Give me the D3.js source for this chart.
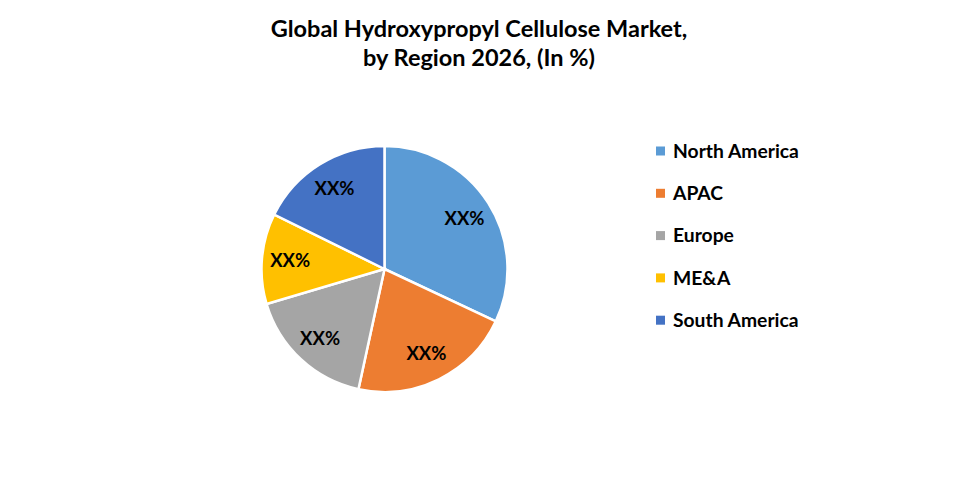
<!DOCTYPE html>
<html>
<head>
<meta charset="utf-8">
<script src="https://cdn.jsdelivr.net/npm/d3@7"></script>
<style>
  body { margin: 0; background: #fff; }
  text { font-family: Lato, "Open Sans", sans-serif; font-weight: bold; }
</style>
</head>
<body>
<div id="chart"></div>
<script>
const w = 973;
const h = 491;

const regions = ["North America", "APAC", "Europe", "ME&A", "South America"];
const shares = [32.0, 21.4, 17.0, 11.9, 17.7];
const labels = ["XX%", "XX%", "XX%", "XX%", "XX%"];
const colors = ["#5b9bd5", "#ed7d31", "#a5a5a5", "#ffc000", "#4472c4"];
const titleLines = ["Global Hydroxypropyl Cellulose Market,", "by Region 2026, (In %)"];

const svg = d3.select("#chart").append("svg").attr("width", w).attr("height", h);

svg.selectAll("text.title")
    .data(titleLines)
    .enter()
    .append("text")
    .attr("class", "title")
    .attr("x", 479)
    .attr("y", (d, i) => 37 + i * 29)
    .attr("text-anchor", "middle")
    .style("font-size", "23.5px")
    .style("fill", "#000")
    .text(d => d);

const cx = 384.5, cy = 269, r = 123;
const pie = d3.pie().sort(null).value(d => d);
const arc = d3.arc().innerRadius(0).outerRadius(r);
const labelArc = d3.arc().innerRadius(r * 0.77).outerRadius(r * 0.77);

const g = svg.append("g").attr("transform", `translate(${cx},${cy})`);
const arcs = pie(shares);

g.selectAll("path")
    .data(arcs)
    .enter()
    .append("path")
    .attr("d", arc)
    .style("fill", (d, i) => colors[i])
    .style("stroke", "#fff")
    .style("stroke-width", 2.5);

g.selectAll("text")
    .data(arcs)
    .enter()
    .append("text")
    .attr("transform", d => `translate(${labelArc.centroid(d)})`)
    .attr("text-anchor", "middle")
    .attr("dy", "0.35em")
    .style("font-size", "18.5px")
    .style("fill", "#000")
    .text((d, i) => labels[i]);

const legend = svg.append("g").attr("transform", "translate(656,151)");
const rows = legend.selectAll("g")
    .data(regions)
    .enter()
    .append("g")
    .attr("transform", (d, i) => `translate(0, ${i * 42.3})`);

rows.append("rect")
    .attr("x", 0)
    .attr("y", -4.5)
    .attr("width", 9)
    .attr("height", 9)
    .style("fill", (d, i) => colors[i]);

rows.append("text")
    .attr("x", 17)
    .attr("dy", "0.35em")
    .style("font-size", "19.3px")
    .style("fill", "#000")
    .text(d => d);
</script>
</body>
</html>
